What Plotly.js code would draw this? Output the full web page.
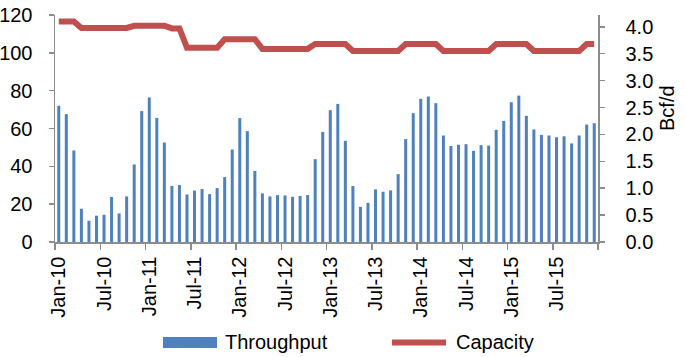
<!DOCTYPE html>
<html>
<head>
<meta charset="utf-8">
<script src="https://cdn.plot.ly/plotly-3.0.1.min.js"></script>
<style>
  html, body { margin: 0; padding: 0; background: #fff; }
  #chart { width: 685px; height: 357px; }
</style>
</head>
<body>
<div id="chart"></div>
<script>
// ---- Data (monthly, Jan-10 .. Dec-15) ----
const months = [
  "Jan-10","Feb-10","Mar-10","Apr-10","May-10","Jun-10","Jul-10","Aug-10","Sep-10","Oct-10","Nov-10","Dec-10",
  "Jan-11","Feb-11","Mar-11","Apr-11","May-11","Jun-11","Jul-11","Aug-11","Sep-11","Oct-11","Nov-11","Dec-11",
  "Jan-12","Feb-12","Mar-12","Apr-12","May-12","Jun-12","Jul-12","Aug-12","Sep-12","Oct-12","Nov-12","Dec-12",
  "Jan-13","Feb-13","Mar-13","Apr-13","May-13","Jun-13","Jul-13","Aug-13","Sep-13","Oct-13","Nov-13","Dec-13",
  "Jan-14","Feb-14","Mar-14","Apr-14","May-14","Jun-14","Jul-14","Aug-14","Sep-14","Oct-14","Nov-14","Dec-14",
  "Jan-15","Feb-15","Mar-15","Apr-15","May-15","Jun-15","Jul-15","Aug-15","Sep-15","Oct-15","Nov-15","Dec-15"
];

// Throughput (left axis)
const throughput = [
  72.0, 67.6, 48.4, 17.6, 11.2, 13.9, 14.4, 23.8, 15.1, 24.1, 41.0, 69.2,
  76.4, 65.6, 52.6, 29.6, 30.1, 25.1, 27.2, 28.0, 25.3, 28.5, 34.3, 48.9,
  65.5, 58.6, 37.6, 25.7, 24.1, 24.8, 24.6, 23.9, 24.3, 24.8, 43.8, 58.2,
  69.7, 73.0, 53.5, 29.6, 18.6, 20.7, 27.8, 26.6, 27.3, 35.9, 54.4, 68.1,
  75.7, 76.9, 73.4, 56.3, 50.8, 51.4, 51.7, 48.2, 51.2, 51.0, 59.3, 64.0,
  73.9, 77.4, 66.7, 59.5, 56.6, 56.3, 55.4, 55.9, 52.1, 56.3, 62.1, 62.8
];

// Capacity, Bcf/d (right axis)
const capacity = [
  4.10, 4.10, 4.10, 3.98, 3.98, 3.98, 3.98, 3.98, 3.98, 3.98, 4.02, 4.02,
  4.02, 4.02, 4.02, 3.97, 3.97, 3.61, 3.61, 3.61, 3.61, 3.61, 3.77, 3.77,
  3.77, 3.77, 3.77, 3.59, 3.59, 3.59, 3.59, 3.59, 3.59, 3.59, 3.68, 3.68,
  3.68, 3.68, 3.68, 3.55, 3.55, 3.55, 3.55, 3.55, 3.55, 3.55, 3.68, 3.68,
  3.68, 3.68, 3.68, 3.55, 3.55, 3.55, 3.55, 3.55, 3.55, 3.55, 3.68, 3.68,
  3.68, 3.68, 3.68, 3.55, 3.55, 3.55, 3.55, 3.55, 3.55, 3.55, 3.68, 3.68
];

const tickLabels = ["Jan-10","Jul-10","Jan-11","Jul-11","Jan-12","Jul-12","Jan-13","Jul-13","Jan-14","Jul-14","Jan-15","Jul-15"];
const seriesNames = ["Throughput", "Capacity"];
const rightAxisTitle = "Bcf/d";

// ---- Build ----
const xIdx = months.map((m, i) => i);
const tickIdx = tickLabels.map(l => months.indexOf(l));

const FONT = "Liberation Sans, Arial, Helvetica, sans-serif";
const FS = 20;
const BLUE = "#4F81BD";
const RED = "#C0504D";
const AXIS = "#8C8C8C";

// plot-area geometry helpers (pixel -> paper)
const W = 685, H = 357, ML = 55, MR = 87, MT = 15, MB = 115;
const PW = W - ML - MR, PH = H - MT - MB;
const px = x => (x - ML) / PW;
const py = y => (H - MB - y) / PH;

const traces = [
  {
    type: "bar",
    name: seriesNames[0],
    x: xIdx,
    y: throughput,
    marker: { color: BLUE },
    yaxis: "y",
    showlegend: false,
    hoverinfo: "skip"
  },
  {
    type: "scatter",
    mode: "lines",
    name: seriesNames[1],
    x: xIdx,
    y: capacity,
    yaxis: "y2",
    line: { color: RED, width: 6, shape: "linear" },
    showlegend: false,
    hoverinfo: "skip"
  }
];

const tf = { family: FONT, size: FS, color: "#000" };

const layout = {
  width: W,
  height: H,
  margin: { l: ML, r: MR, t: MT, b: MB, pad: 0 },
  paper_bgcolor: "#ffffff",
  plot_bgcolor: "#ffffff",
  font: { family: FONT, size: FS, color: "#000000" },
  bargap: 0.6,
  showlegend: false,
  xaxis: {
    type: "linear",
    range: [-0.5, months.length - 0.5],
    tickmode: "array",
    tickvals: tickIdx,
    ticktext: tickLabels,
    tickangle: -90,
    ticks: "",
    ticklabelstandoff: 5,
    showgrid: false,
    zeroline: false,
    showline: true,
    linecolor: AXIS,
    linewidth: 1.5,
    tickfont: tf,
    minor: {
      ticks: "outside",
      tick0: -0.5,
      dtick: 6,
      ticklen: 6,
      tickwidth: 1.5,
      tickcolor: AXIS,
      showgrid: false
    },
    fixedrange: true
  },
  yaxis: {
    range: [0, 120],
    tickmode: "linear",
    tick0: 0,
    dtick: 20,
    ticks: "outside",
    ticklen: 5,
    tickwidth: 1.5,
    tickcolor: AXIS,
    showgrid: false,
    zeroline: false,
    showline: true,
    linecolor: AXIS,
    linewidth: 1.5,
    ticklabelstandoff: 12,
    tickfont: tf,
    fixedrange: true
  },
  yaxis2: {
    overlaying: "y",
    side: "right",
    range: [0, 4.22],
    tickmode: "linear",
    tick0: 0,
    dtick: 0.5,
    tickformat: ".1f",
    ticks: "outside",
    ticklen: 5,
    tickwidth: 1.5,
    tickcolor: AXIS,
    showgrid: false,
    zeroline: false,
    showline: true,
    linecolor: AXIS,
    linewidth: 1.5,
    ticklabelstandoff: 17,
    tickfont: tf,
    fixedrange: true
  },
  shapes: [
    // legend swatch: Throughput
    { type: "rect", xref: "paper", yref: "paper",
      x0: px(163), x1: px(217), y0: py(348), y1: py(337),
      fillcolor: BLUE, line: { width: 0 } },
    // legend swatch: Capacity
    { type: "line", xref: "paper", yref: "paper",
      x0: px(392), x1: px(446), y0: py(342.5), y1: py(342.5),
      line: { color: RED, width: 6 } }
  ],
  annotations: [
    { xref: "paper", yref: "paper", x: px(223), y: py(342), xanchor: "left", yanchor: "middle",
      text: seriesNames[0], showarrow: false, font: tf },
    { xref: "paper", yref: "paper", x: px(454), y: py(342), xanchor: "left", yanchor: "middle",
      text: seriesNames[1], showarrow: false, font: tf },
    { xref: "paper", yref: "paper", x: px(667), y: py(108), xanchor: "center", yanchor: "middle",
      text: rightAxisTitle, textangle: -90, showarrow: false, font: tf }
  ]
};

Plotly.newPlot("chart", traces, layout, { displayModeBar: false, staticPlot: true });
</script>
</body>
</html>
